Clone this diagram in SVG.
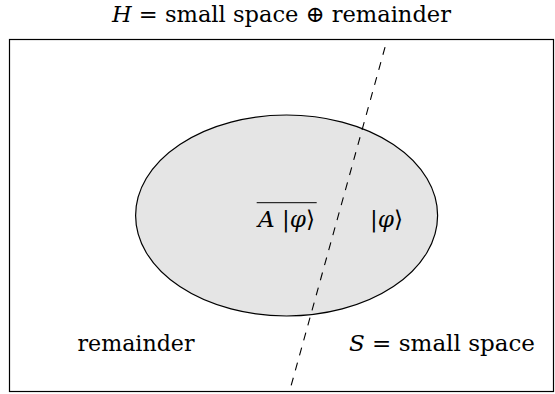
<svg xmlns="http://www.w3.org/2000/svg" width="555" height="394" viewBox="0 0 555 394">
  <style>
    text { font-family: 'DejaVu Serif', 'Liberation Serif', serif; font-size: 23px; fill: #000; }
    .i { font-style: italic; }
    .frame { fill: #fff; stroke: #000; stroke-width: 1.2; }
    .blob { fill: #e5e5e5; stroke: #000; stroke-width: 1.2; }
    .cut { stroke: #000; stroke-width: 1.1; fill: none; stroke-dasharray: 8 7.6; stroke-dashoffset: 8.3; }
  </style>
  <rect width="555" height="394" fill="#fff"/>
  <g id="title">
    <text x="281.5" y="22" text-anchor="middle" textLength="339" lengthAdjust="spacingAndGlyphs"><tspan class="i">H</tspan> = small space ⊕ remainder</text>
  </g>
  <g id="hilbert-space">
    <rect class="frame" x="9.5" y="39.5" width="544" height="352"/>
    <text x="77.5" y="351" textLength="117" lengthAdjust="spacingAndGlyphs">remainder</text>
  </g>
  <g id="small-space">
    <ellipse class="blob" cx="286.6" cy="215.5" rx="151" ry="100.5"/>
    <text x="349" y="351" textLength="186" lengthAdjust="spacingAndGlyphs"><tspan class="i">S</tspan> = small space</text>
    <text x="370" y="227" textLength="33" lengthAdjust="spacingAndGlyphs">|<tspan class="i">φ</tspan>⟩</text>
  </g>
  <g id="complement-label">
    <line x1="256.7" y1="202.7" x2="316.7" y2="202.7" stroke="#000" stroke-width="1"/>
    <text x="258" y="227" textLength="57" lengthAdjust="spacingAndGlyphs"><tspan class="i">A</tspan> |<tspan class="i">φ</tspan>⟩</text>
  </g>
  <g id="connectors">
    <line class="cut" x1="387" y1="40" x2="289.5" y2="391.5"/>
  </g>
</svg>
